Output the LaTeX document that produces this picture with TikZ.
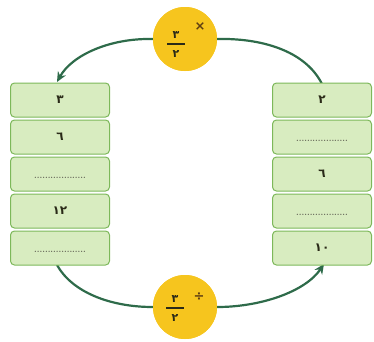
\documentclass[tikz,border=0pt]{standalone}
\usepackage{fontspec}
\newfontfamily\arabicfont[Script=Arabic]{DejaVu Sans}
\newfontfamily\symfont{DejaVu Sans}
\usetikzlibrary{arrows.meta}
\definecolor{boxfill}{HTML}{D8ECC0}
\definecolor{boxline}{HTML}{7DB85A}
\definecolor{circfill}{HTML}{F6C51E}
\definecolor{arcline}{HTML}{2E6B4A}
\definecolor{txt}{HTML}{2A2A18}
\begin{document}
\begin{tikzpicture}[x=1pt,y=-1pt,
  cell/.style={draw=boxline,fill=boxfill,line width=1pt,rounded corners=4pt,minimum width=99pt,minimum height=34pt,inner sep=0pt,font=\arabicfont\bfseries\fontsize{12}{14}\selectfont,text=txt},
  dots/.style={font=\bfseries\fontsize{8}{8}\selectfont,text=txt!75},
  opcirc/.style={circle,fill=circfill,minimum size=64pt,inner sep=0pt},
  frac/.style={font=\arabicfont\bfseries\fontsize{11}{12}\selectfont,text=txt,inner sep=0pt},
  opsym/.style={font=\symfont\bfseries\fontsize{13}{13}\selectfont,text=txt!75!orange,inner sep=0pt},
  arc/.style={draw=arcline,line width=2.2pt},
  tip/.style={-{Stealth[length=10pt,width=9pt]}}]
\useasboundingbox (0,0) rectangle (374,341);
\coordinate (tr) at (322,84);
\coordinate (tl) at (57,82);
\coordinate (bl) at (57,265);
\coordinate (br) at (324,264);
\node[opcirc] (top) at (185,39) {};
\node[opcirc] (bot) at (185,307) {};
\draw[arc] (tr) .. controls (305,50) and (260,38) .. (top.east);
\draw[arc,tip] (top.west) .. controls (110,38) and (72,55) .. (tl);
\draw[arc] (bl) .. controls (72,292) and (110,307) .. (bot.west);
\draw[arc,tip] (bot.east) .. controls (260,307) and (305,292) .. (br);
\node[opcirc] at (185,39) {};
\node[opcirc] at (185,307) {};
% fraction labels
\node[frac] (tn) at (176,35) {٣};
\draw[txt,line width=1.4pt] (167,44) -- (185,44);
\node[frac] (td) at (176,54) {٢};
\node[opsym] (tx) at (200,27) {×};
\node[frac] (bn) at (175,299) {٣};
\draw[txt,line width=1.4pt] (166,308) -- (184,308);
\node[frac] (bd) at (175,318) {٢};
\node[opsym] (bx) at (199,297) {÷};
% left column
\node[cell] (l1) at (60,100) {٣};
\node[cell] (l2) at (60,137) {٦};
\node[cell] (l3) at (60,174) {};
\node[dots] at (60,178) {...................};
\node[cell] (l4) at (60,211) {١٢};
\node[cell] (l5) at (60,248) {};
\node[dots] at (60,252) {...................};
% right column
\node[cell] (r1) at (322,100) {٢};
\node[cell] (r2) at (322,137) {};
\node[dots] at (322,141) {...................};
\node[cell] (r3) at (322,174) {٦};
\node[cell] (r4) at (322,211) {};
\node[dots] at (322,215) {...................};
\node[cell] (r5) at (322,248) {١٠};
\end{tikzpicture}
\end{document}
